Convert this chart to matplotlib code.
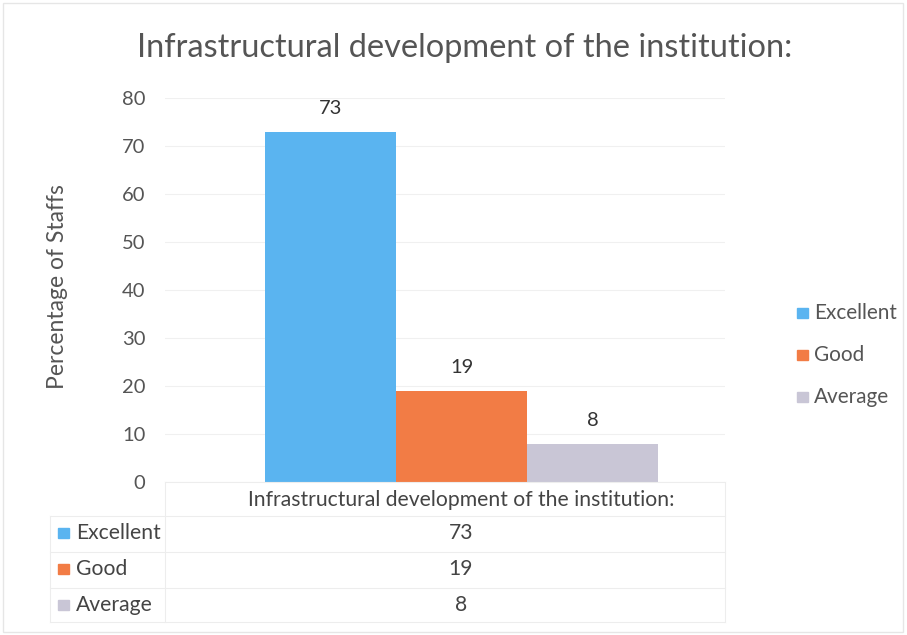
import matplotlib
matplotlib.use("Agg")
import matplotlib.pyplot as plt
from matplotlib.patches import Rectangle
from matplotlib.lines import Line2D

plt.rcParams['font.family'] = ['Lato', 'DejaVu Sans']

title = "Infrastructural development of the institution:"
category = "Infrastructural development of the institution:"
series = ["Excellent", "Good", "Average"]
values = [73, 19, 8]
colors = ["#5AB4F0", "#F27C45", "#C9C6D6"]
yticks = [0, 10, 20, 30, 40, 50, 60, 70, 80]
ylabel = "Percentage of Staffs"

W, H = 907, 635
fig = plt.figure(figsize=(W / 100, H / 100), dpi=100)
fig.patch.set_facecolor("white")
renderer = fig.canvas.get_renderer()

def fx(px):
    return px / W

def fy(py):
    return 1 - py / H

def fit(t, target, vertical=False):
    bb = t.get_window_extent(renderer=renderer)
    cur = bb.height if vertical else bb.width
    t.set_fontsize(t.get_fontsize() * target / cur)
    return t

txt_c = "#555555"
num_fs = 14.5

ax_l, ax_r, ax_t, ax_b = 165, 725, 98, 482
ax = fig.add_axes([fx(ax_l), fy(ax_b), fx(ax_r - ax_l), fy(ax_t) - fy(ax_b)])

offsets = [-1, 0, 1]
bw = 1.0
for off, v, c in zip(offsets, values, colors):
    ax.bar(off, v, width=bw, color=c, zorder=3)
    ax.text(off, v + 3, str(v), ha="center", va="bottom", fontsize=num_fs, color="#333333")

unit = 131.0
center_px = 461.5
ax.set_xlim((ax_l - center_px) / unit, (ax_r - center_px) / unit)
ax.set_ylim(0, 80)
ax.set_yticks(yticks)
ax.set_yticklabels([str(t) for t in yticks], fontsize=num_fs, color=txt_c)
ax.tick_params(axis="y", length=0, pad=14)
ax.set_xticks([])
ax.grid(axis="y", color="#F0F0F0", linewidth=0.8, zorder=0)
for s in ax.spines.values():
    s.set_visible(False)

yl = fig.text(fx(57), fy(287), ylabel, ha="center", va="center", rotation=90,
              fontsize=14, color=txt_c)
fit(yl, 205, vertical=True)

tt = fig.text(fx(465), fy(48), title, ha="center", va="center", fontsize=20, color=txt_c)
fit(tt, 656)

# legend on the right
leg_y = [313, 355, 397]
leg_texts = []
for s, c, y in zip(series, colors, leg_y):
    fig.patches.append(Rectangle((fx(797), fy(y + 5)), fx(11), fy(y - 5) - fy(y + 5),
                                 transform=fig.transFigure, color=c))
    leg_texts.append(fig.text(fx(814), fy(y), s, ha="left", va="center", fontsize=13, color=txt_c))
fit(leg_texts[0], 83)
for t in leg_texts[1:]:
    t.set_fontsize(leg_texts[0].get_fontsize())

# data table below
line_c = "#EDEDED"
tbl_left, tbl_mid, tbl_right = 50, 165, 725
row_lines = [482, 516, 552, 588, 622]
for y in row_lines:
    x0 = tbl_mid if y == 482 else tbl_left
    fig.add_artist(Line2D([fx(x0), fx(tbl_right)], [fy(y), fy(y)], color=line_c, lw=0.8))
fig.add_artist(Line2D([fx(tbl_mid), fx(tbl_mid)], [fy(482), fy(622)], color=line_c, lw=0.8))
fig.add_artist(Line2D([fx(tbl_right), fx(tbl_right)], [fy(482), fy(622)], color=line_c, lw=0.8))
fig.add_artist(Line2D([fx(tbl_left), fx(tbl_left)], [fy(516), fy(622)], color=line_c, lw=0.8))

hd = fig.text(fx(461), fy(500), category, ha="center", va="center", fontsize=13, color="#444444")
fit(hd, 424)
tbl_fs = hd.get_fontsize()
row_y = [533, 569, 605]
for s, c, v, y in zip(series, colors, values, row_y):
    fig.patches.append(Rectangle((fx(58), fy(y + 5)), fx(11), fy(y - 5) - fy(y + 5),
                                 transform=fig.transFigure, color=c))
    fig.text(fx(76), fy(y), s, ha="left", va="center", fontsize=tbl_fs, color="#444444")
    fig.text(fx(461), fy(y), str(v), ha="center", va="center", fontsize=tbl_fs, color="#444444")

# outer chart border
fig.patches.append(Rectangle((fx(3), fy(632)), fx(900), fy(3) - fy(632),
                             transform=fig.transFigure, fill=False, edgecolor="#E6E6E6", lw=1))

fig.savefig("out.png", dpi=100, facecolor="white")
